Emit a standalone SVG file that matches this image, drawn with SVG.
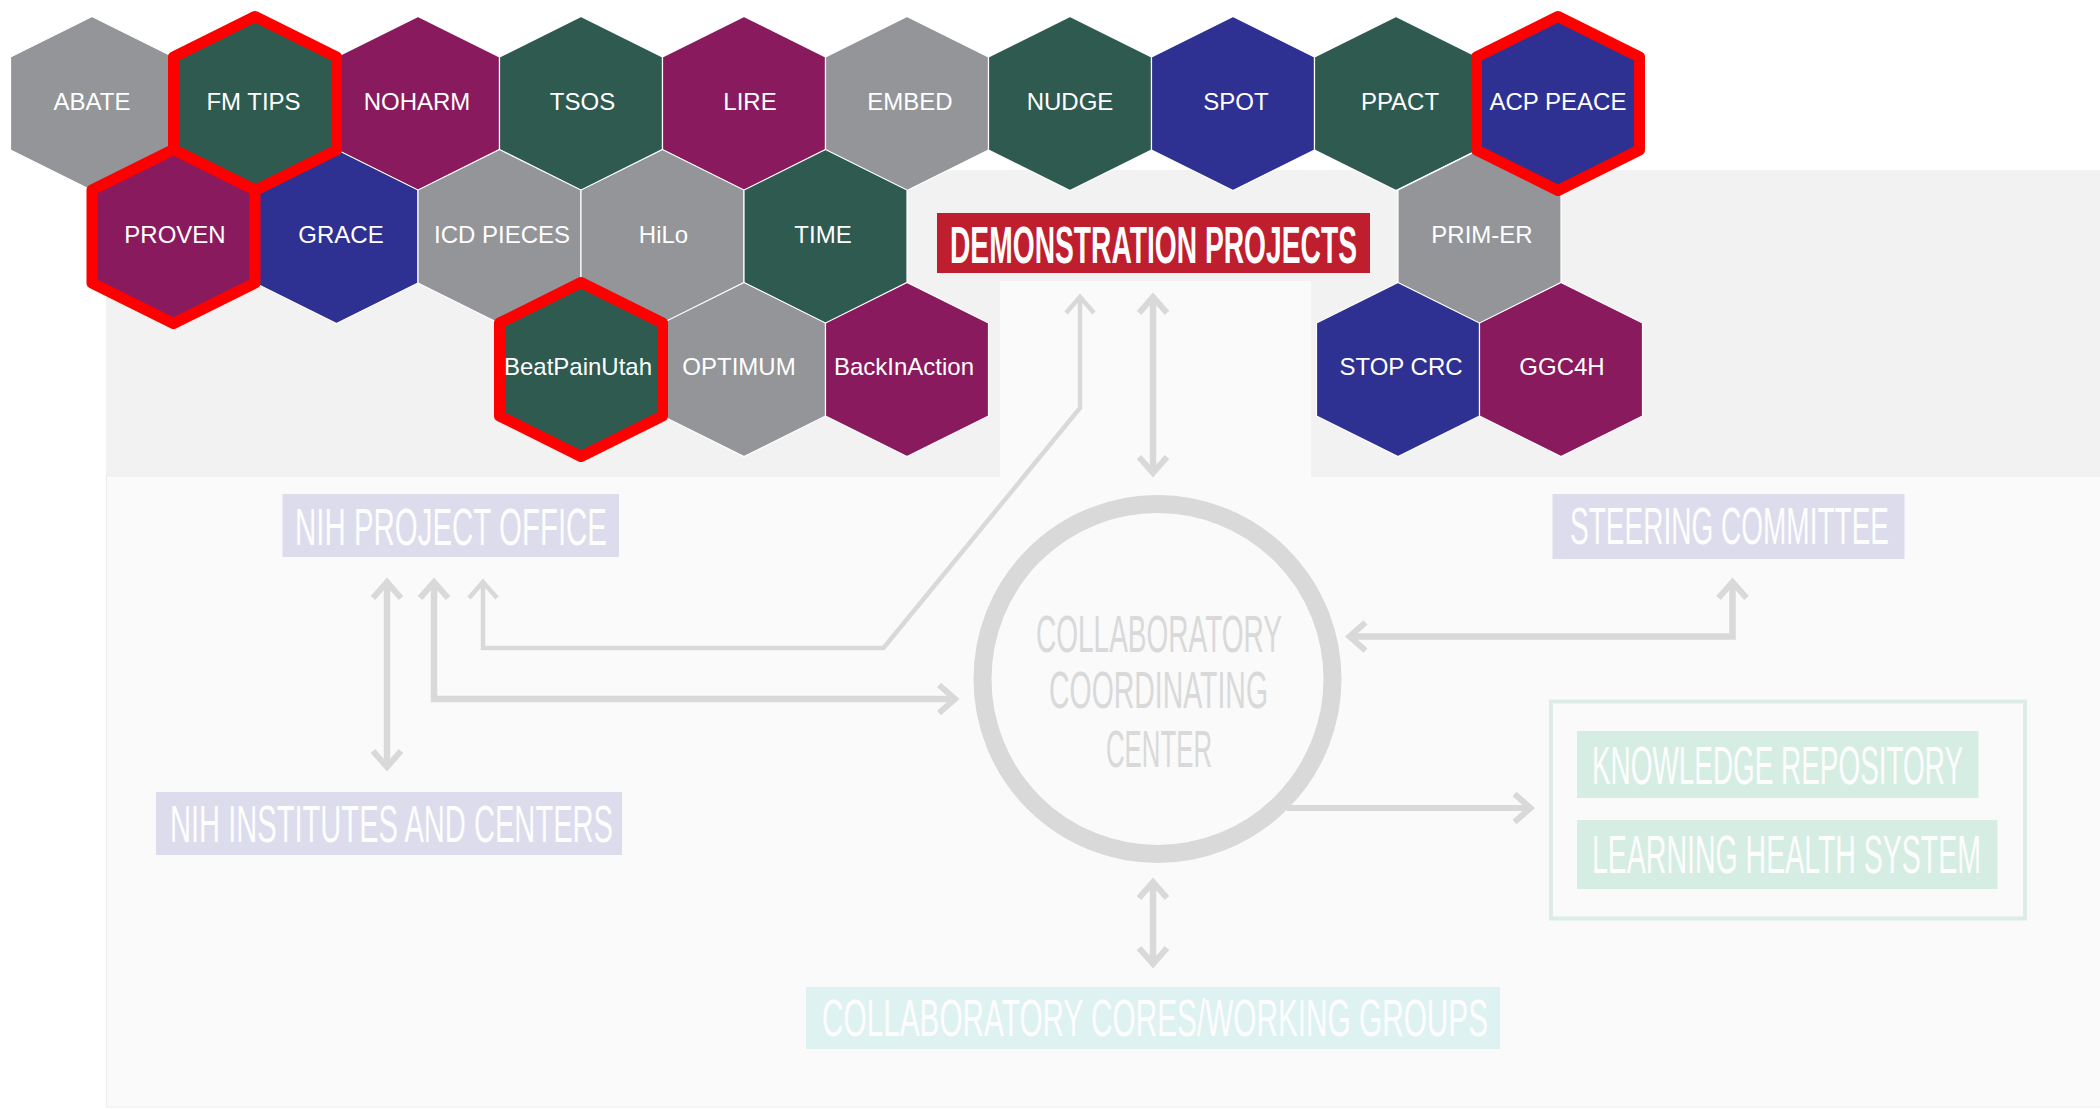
<svg xmlns="http://www.w3.org/2000/svg" xmlns:xlink="http://www.w3.org/1999/xlink" width="2100" height="1109" viewBox="0 0 2100 1109">
<style>
.hx{font-family:"Liberation Sans",Arial,sans-serif;font-size:24px;fill:#ffffff;text-anchor:middle}
.gray{fill:#939598}
.green{fill:#2E5A50}
.purple{fill:#8A1A5E}
.blue{fill:#2E3192}
.hexfill{stroke:#ffffff;stroke-width:1.2}
.red{fill:none;stroke:#FF0000;stroke-width:11;stroke-linejoin:round}
.cond{font-family:"Liberation Sans",Arial,sans-serif;font-size:28px;fill:#FDFDFD}
.cc{font-family:"Liberation Sans",Arial,sans-serif;font-size:28px;fill:#D9D9D9}
.conn{fill:none;stroke:#D9D9D9;stroke-linejoin:miter;stroke-linecap:butt}
.thick{stroke-width:6.5;marker-start:url(#ah);marker-end:url(#ah)}
.thin{stroke-width:4.5;marker-start:url(#ahs);marker-end:url(#ahs)}
</style>
<defs>
<polygon id="hex" points="0,-87 81.5,-46.5 81.5,46.5 0,87 -81.5,46.5 -81.5,-46.5"/>
<marker id="ah" viewBox="-25 -20 40 40" refX="0" refY="0" markerWidth="40" markerHeight="40" markerUnits="userSpaceOnUse" orient="auto-start-reverse" overflow="visible">
<path d="M-16,-14 L0,0 L-16,14" fill="none" stroke="#D9D9D9" stroke-width="6"/>
</marker>
<marker id="ahs" viewBox="-25 -20 40 40" refX="0" refY="0" markerWidth="40" markerHeight="40" markerUnits="userSpaceOnUse" orient="auto-start-reverse" overflow="visible">
<path d="M-16,-14 L0,0 L-16,14" fill="none" stroke="#D9D9D9" stroke-width="4.5"/>
</marker>
</defs>
<rect x="0" y="0" width="2100" height="1109" fill="#ffffff"/>
<g id="background">
<rect x="106" y="170" width="1994" height="306" fill="#F2F2F2"/>
<rect x="106.5" y="476" width="1994" height="631" fill="#FAFAFA" stroke="#ECECEC" stroke-width="1"/>
<rect x="1000" y="281" width="311" height="196" fill="#FAFAFA"/>
</g>

<g id="connectors">
<path class="conn thick" d="M387,582 L387,767"/>
<path class="conn thick" d="M434,582 L434,699 L955,699"/>
<path class="conn thin" d="M483,582 L483,648 L883.5,648 L1080,408 L1080,297"/>
<path class="conn thick" d="M1153,297 L1153,473"/>
<path class="conn thick" d="M1349.5,636.5 L1732.5,636.5 L1732.5,582"/>
<path class="conn" stroke-width="6" marker-end="url(#ah)" d="M1287,808 L1530.5,808"/>
<path class="conn thick" d="M1153,882 L1153,964"/>
</g>

<g id="hex-abate"><use xlink:href="#hex" class="gray hexfill" transform="translate(92,103.5)"/><text class="hx" x="92" y="110">ABATE</text></g>
<g id="hex-noharm"><use xlink:href="#hex" class="purple hexfill" transform="translate(418,103.5)"/><text class="hx" x="417" y="110">NOHARM</text></g>
<g id="hex-tsos"><use xlink:href="#hex" class="green hexfill" transform="translate(581,103.5)"/><text class="hx" x="582.5" y="110">TSOS</text></g>
<g id="hex-lire"><use xlink:href="#hex" class="purple hexfill" transform="translate(744,103.5)"/><text class="hx" x="750" y="110">LIRE</text></g>
<g id="hex-embed"><use xlink:href="#hex" class="gray hexfill" transform="translate(907,103.5)"/><text class="hx" x="910" y="110">EMBED</text></g>
<g id="hex-nudge"><use xlink:href="#hex" class="green hexfill" transform="translate(1070,103.5)"/><text class="hx" x="1070" y="110">NUDGE</text></g>
<g id="hex-spot"><use xlink:href="#hex" class="blue hexfill" transform="translate(1233,103.5)"/><text class="hx" x="1236" y="110">SPOT</text></g>
<g id="hex-ppact"><use xlink:href="#hex" class="green hexfill" transform="translate(1396,103.5)"/><text class="hx" x="1400" y="110">PPACT</text></g>

<g id="hex-grace"><use xlink:href="#hex" class="blue hexfill" transform="translate(336.5,236.5)"/><text class="hx" x="341" y="243">GRACE</text></g>
<g id="hex-icd-pieces"><use xlink:href="#hex" class="gray hexfill" transform="translate(499.5,236.5)"/><text class="hx" x="502" y="243">ICD PIECES</text></g>
<g id="hex-hilo"><use xlink:href="#hex" class="gray hexfill" transform="translate(662.5,236.5)"/><text class="hx" x="663.5" y="243">HiLo</text></g>
<g id="hex-time"><use xlink:href="#hex" class="green hexfill" transform="translate(825.5,236.5)"/><text class="hx" x="823" y="243">TIME</text></g>
<g id="hex-prim-er"><use xlink:href="#hex" class="gray hexfill" transform="translate(1479.5,236.5)"/><text class="hx" x="1482" y="243">PRIM-ER</text></g>

<g id="hex-optimum"><use xlink:href="#hex" class="gray hexfill" transform="translate(744,369.5)"/><text class="hx" x="739" y="375">OPTIMUM</text></g>
<g id="hex-backinaction"><use xlink:href="#hex" class="purple hexfill" transform="translate(907,369.5)"/><text class="hx" x="904" y="375">BackInAction</text></g>
<g id="hex-stop-crc"><use xlink:href="#hex" class="blue hexfill" transform="translate(1398,369.5)"/><text class="hx" x="1401" y="375">STOP CRC</text></g>
<g id="hex-ggc4h"><use xlink:href="#hex" class="purple hexfill" transform="translate(1561,369.5)"/><text class="hx" x="1562" y="375">GGC4H</text></g>

<g id="hex-fm-tips"><use xlink:href="#hex" class="green" transform="translate(255,103.5)"/><use xlink:href="#hex" class="red" transform="translate(255,103.5)"/><text class="hx" x="253.5" y="110">FM TIPS</text></g>
<g id="hex-proven"><use xlink:href="#hex" class="purple" transform="translate(173.5,236.5)"/><use xlink:href="#hex" class="red" transform="translate(173.5,236.5)"/><text class="hx" x="175" y="243">PROVEN</text></g>
<g id="hex-beatpainutah"><use xlink:href="#hex" class="green" transform="translate(581,369.5)"/><use xlink:href="#hex" class="red" transform="translate(581,369.5)"/><text class="hx" x="578" y="375">BeatPainUtah</text></g>
<g id="hex-acp-peace"><use xlink:href="#hex" class="blue" transform="translate(1558,103.5)"/><use xlink:href="#hex" class="red" transform="translate(1558,103.5)"/><text class="hx" x="1558" y="110">ACP PEACE</text></g>

<g id="demonstration-projects">
<rect x="937" y="213" width="433" height="60" fill="#BE1E2D"/>
<g transform="translate(950,262.5) scale(1,1.83)"><text class="cond" x="0" y="0" font-weight="bold" textLength="407" lengthAdjust="spacingAndGlyphs">DEMONSTRATION PROJECTS</text></g>
</g>

<g id="nih-project-office">
<rect x="282.5" y="494" width="336.5" height="63" fill="#DCDCEC"/>
<g transform="translate(295,545) scale(1,1.88)"><text class="cond" x="0" y="0" textLength="312" lengthAdjust="spacingAndGlyphs">NIH PROJECT OFFICE</text></g>
</g>

<g id="nih-institutes">
<rect x="156" y="792" width="466" height="63" fill="#DCDCEC"/>
<g transform="translate(170,842) scale(1,1.86)"><text class="cond" x="0" y="0" textLength="443" lengthAdjust="spacingAndGlyphs">NIH INSTITUTES AND CENTERS</text></g>
</g>

<g id="coordinating-center">
<circle cx="1157.5" cy="679" r="175" fill="none" stroke="#D9D9D9" stroke-width="18"/>
<g transform="translate(1036,651.5) scale(1,1.84)"><text class="cc" x="0" y="0" textLength="246" lengthAdjust="spacingAndGlyphs">COLLABORATORY</text></g>
<g transform="translate(1049,708) scale(1,1.84)"><text class="cc" x="0" y="0" textLength="219" lengthAdjust="spacingAndGlyphs">COORDINATING</text></g>
<g transform="translate(1106,766.5) scale(1,1.84)"><text class="cc" x="0" y="0" textLength="106" lengthAdjust="spacingAndGlyphs">CENTER</text></g>
</g>

<g id="steering-committee">
<rect x="1552.5" y="494" width="352" height="65" fill="#DCDCEC"/>
<g transform="translate(1570,544) scale(1,1.86)"><text class="cond" x="0" y="0" textLength="319" lengthAdjust="spacingAndGlyphs">STEERING COMMITTEE</text></g>
</g>

<g id="outputs">
<rect x="1551" y="701.5" width="474" height="217" fill="none" stroke="#DCEDE7" stroke-width="4"/>
<g id="knowledge-repository">
<rect x="1577" y="731" width="401.5" height="67" fill="#D6EDE4"/>
<g transform="translate(1592,784) scale(1,1.9)"><text class="cond" x="0" y="0" textLength="371" lengthAdjust="spacingAndGlyphs">KNOWLEDGE REPOSITORY</text></g>
</g>
<g id="learning-health-system">
<rect x="1577" y="820" width="420.5" height="69" fill="#D6EDE4"/>
<g transform="translate(1592,873) scale(1,1.9)"><text class="cond" x="0" y="0" textLength="389" lengthAdjust="spacingAndGlyphs">LEARNING HEALTH SYSTEM</text></g>
</g>
</g>

<g id="collaboratory-cores">
<rect x="806" y="987" width="694" height="62" fill="#DFF2F2"/>
<g transform="translate(822,1036) scale(1,1.85)"><text class="cond" x="0" y="0" textLength="666" lengthAdjust="spacingAndGlyphs">COLLABORATORY CORES/WORKING GROUPS</text></g>
</g>
</svg>
